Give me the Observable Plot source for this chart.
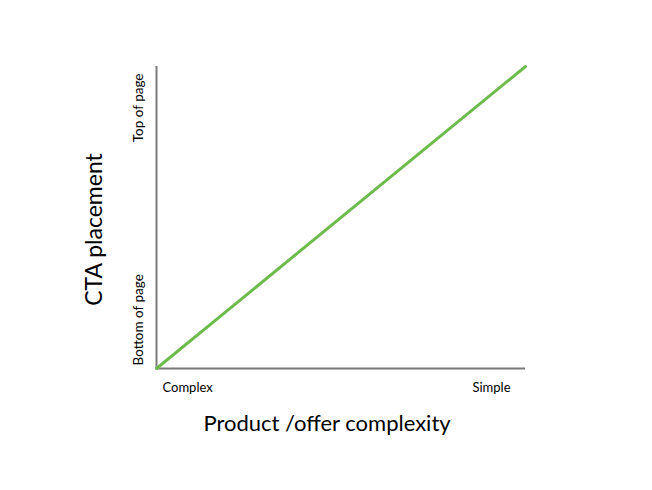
<!DOCTYPE html>
<html>
<head>
<meta charset="utf-8">
<script src="https://cdn.jsdelivr.net/npm/d3@7"></script>
<script src="https://cdn.jsdelivr.net/npm/@observablehq/plot@0.6"></script>
<style>
  html, body { margin: 0; padding: 0; background: #fff; }
  #chart { width: 652px; height: 490px; }
</style>
</head>
<body>
<div id="chart"></div>
<script>
// Data
const complexity = [0, 1];       // x: 0 = Complex, 1 = Simple
const placement = [0, 1];        // y: 0 = Bottom of page, 1 = Top of page
const xTickLabels = ["Complex", "Simple"];
const yTickLabels = ["Bottom of page", "Top of page"];
const xTitle = "Product /offer complexity";
const yTitle = "CTA placement";

const lineData = complexity.map((x, i) => ({x, y: placement[i]}));
const font = "Lato, 'Open Sans', sans-serif";

const chart = Plot.plot({
  width: 652,
  height: 490,
  marginLeft: 156,
  marginRight: 127,
  marginTop: 66,
  marginBottom: 122,
  style: {fontFamily: font, background: "#fff"},
  x: {domain: [0, 1], axis: null},
  y: {domain: [0, 1], axis: null},
  marks: [
    Plot.ruleX([0], {y1: 0, y2: 1, stroke: "#7a7a7a", strokeWidth: 2}),
    Plot.ruleY([0], {x1: 0, x2: 1, stroke: "#7a7a7a", strokeWidth: 2}),
    Plot.line(lineData, {x: "x", y: "y", stroke: "#6dbb4b", strokeWidth: 3}),
    // x tick labels
    Plot.text([xTickLabels[0]], {x: complexity[0], y: placement[0], text: d => d, textAnchor: "start", dx: 6, dy: 19, fontSize: 13, fill: "#000"}),
    Plot.text([xTickLabels[1]], {x: complexity[1], y: placement[0], text: d => d, textAnchor: "end", dx: -15, dy: 19, fontSize: 13, fill: "#000"}),
    // y tick labels
    Plot.text([yTickLabels[0]], {x: complexity[0], y: placement[0], text: d => d, rotate: -90, textAnchor: "start", dx: -18, dy: -3, fontSize: 13.5, fill: "#000"}),
    Plot.text([yTickLabels[1]], {x: complexity[0], y: placement[1], text: d => d, rotate: -90, textAnchor: "end", dx: -18, dy: 7, fontSize: 13.5, fill: "#000"}),
    // axis titles
    Plot.text([xTitle], {frameAnchor: "bottom", dx: -14, dy: 62, text: d => d, fontSize: 22, fill: "#000", lineAnchor: "bottom"}),
    Plot.text([yTitle], {frameAnchor: "left", textAnchor: "middle", dx: -62, dy: 12, rotate: -90, text: d => d, fontSize: 23, fill: "#000"})
  ]
});
document.getElementById("chart").appendChild(chart);
</script>
</body>
</html>
